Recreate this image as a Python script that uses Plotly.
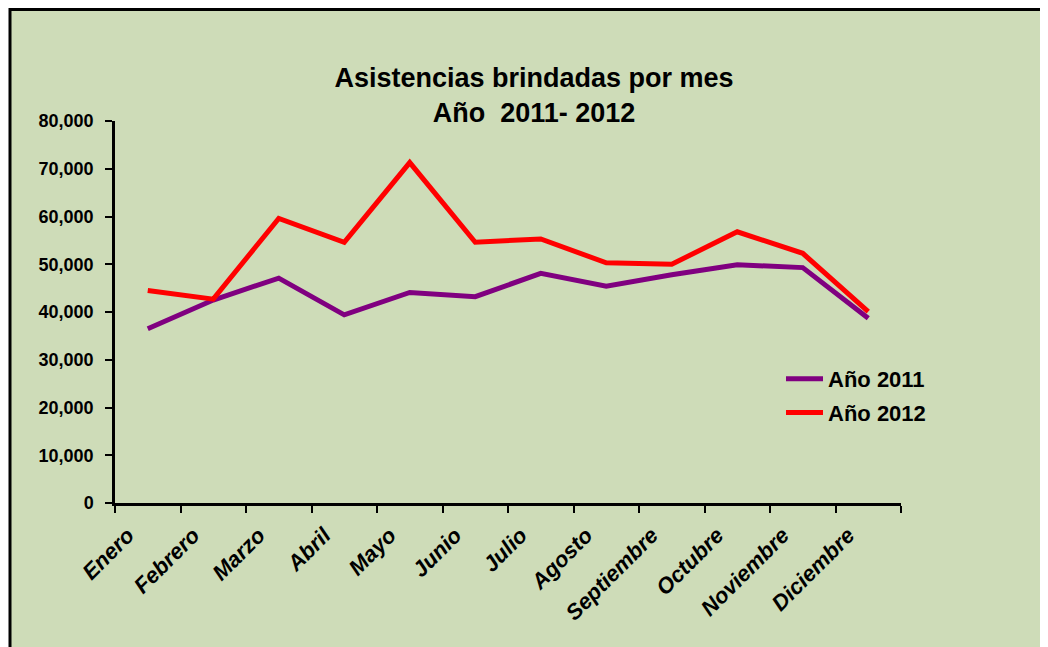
import plotly.graph_objects as go

# Monthly assistance counts
meses = ["Enero", "Febrero", "Marzo", "Abril", "Mayo", "Junio", "Julio",
         "Agosto", "Septiembre", "Octubre", "Noviembre", "Diciembre"]
asist_2011 = [36500, 42500, 47100, 39400, 44100, 43200, 48100, 45400, 47800, 49900, 49300, 38700]
asist_2012 = [44500, 42700, 59600, 54600, 71300, 54600, 55300, 50300, 50000, 56800, 52300, 40100]

FONT = "Liberation Sans, Arial, sans-serif"
BG = "#CEDCB8"

# the page body adds an 8px margin, so lay the figure out 8px up/left
OFF = 8
W, H = 1048 - OFF, 647 - OFF
# plot area in screen pixels (left, right, top, bottom)
L, R, T, B = 115 - OFF, 901 - OFF, 121 - OFF, 503 - OFF


def px_x(p):
    return (p - OFF - L) / (R - L)


def px_y(p):
    return (B - (p - OFF)) / (B - T)


fig = go.Figure()
fig.add_trace(go.Scatter(
    x=meses, y=asist_2011, mode="lines", name="Año 2011",
    line=dict(color="#800080", width=5), legendgroup="a",
))
fig.add_trace(go.Scatter(
    x=meses, y=asist_2012, mode="lines", name="Año 2012",
    line=dict(color="#FF0000", width=5), legendgroup="b",
))

# chart frame (green box with black border, bottom runs off the picture)
fig.add_shape(
    type="rect", xref="paper", yref="paper", layer="below",
    x0=px_x(10), x1=px_x(1046), y0=px_y(700), y1=px_y(9.5),
    fillcolor=BG, line=dict(color="black", width=3),
)

fig.update_layout(
    width=W, height=H,
    margin=dict(l=L, r=W - R, t=T, b=H - B),
    paper_bgcolor="white",
    plot_bgcolor=BG,
    title=dict(
        text="Asistencias brindadas por mes<br>Año  2011- 2012",
        x=(534 - OFF) / W, xanchor="center",
        y=1 - 79 / H, yanchor="top",
        font=dict(family=FONT, size=27, color="black", weight="bold"),
    ),
    legend=dict(
        x=px_x(781), xanchor="left",
        y=px_y(358), yanchor="top",
        font=dict(family=FONT, size=22, color="black", weight="bold"),
        bgcolor="rgba(0,0,0,0)",
        tracegroupgap=2,
        itemwidth=37,
    ),
    showlegend=True,
)

fig.update_xaxes(
    type="category", range=[-0.5, 11.5],
    showline=True, linecolor="black", linewidth=2.5,
    ticks="outside", tickson="boundaries", ticklen=7, tickwidth=2, tickcolor="black",
    tickangle=-45, showgrid=False, zeroline=False,
    ticklabelshift=-20, ticklabelstandoff=8,
    tickfont=dict(family=FONT, size=22, color="black", weight="bold", style="italic"),
)
fig.update_yaxes(
    range=[0, 80000], dtick=10000, tickformat=",",
    showline=True, linecolor="black", linewidth=2.5,
    ticks="outside", ticklen=7, tickwidth=2, tickcolor="black",
    showgrid=False, zeroline=False, ticklabelstandoff=8,
    tickfont=dict(family=FONT, size=18, color="black", weight="bold"),
)

fig.write_html("out.html")
